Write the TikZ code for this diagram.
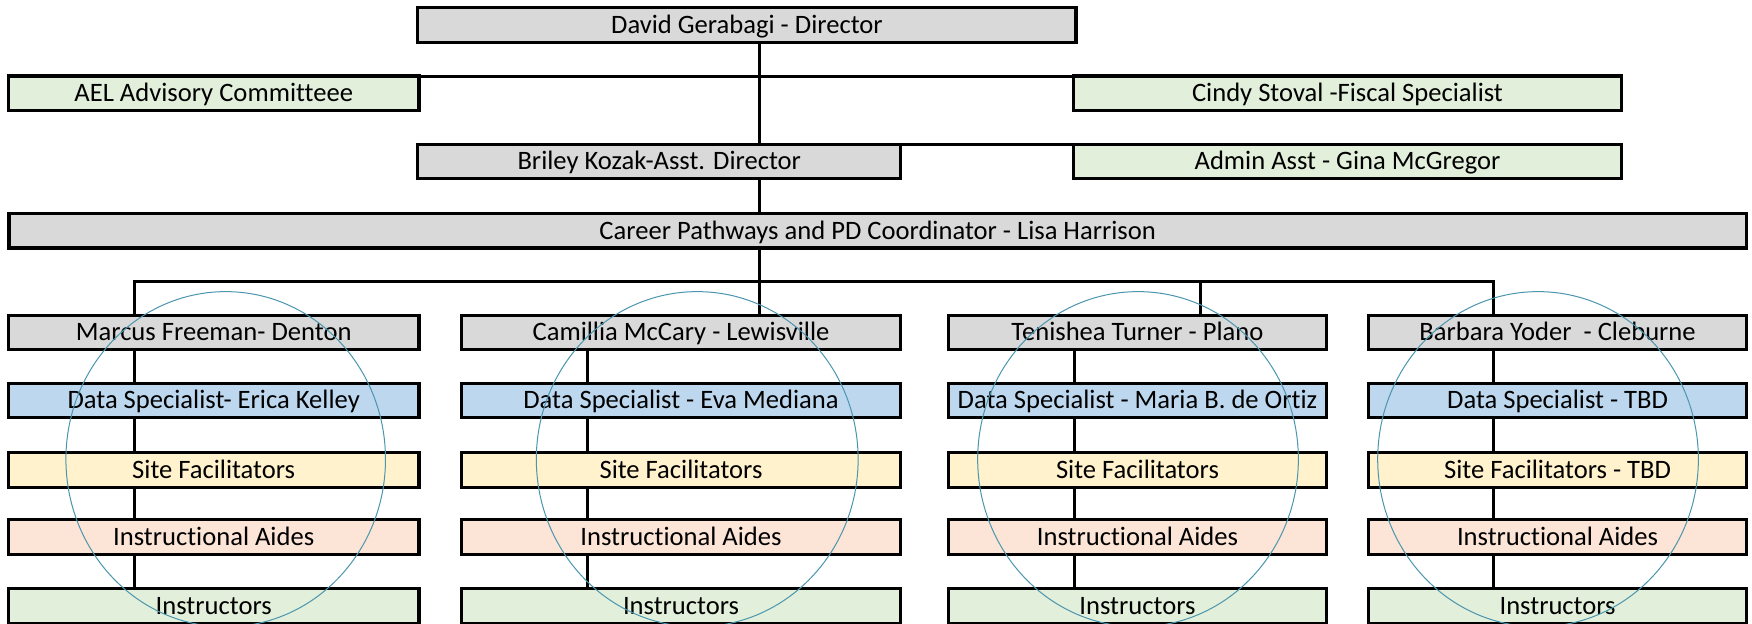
\documentclass[tikz,border=0pt]{standalone}
\usepackage{fontspec}
\usetikzlibrary{shapes.geometric}
\setmainfont{Carlito}[Ligatures=NoCommon]
\definecolor{gr}{HTML}{D9D9D9}
\definecolor{gn}{HTML}{E2EFDA}
\definecolor{bl}{HTML}{BDD7EE}
\definecolor{ye}{HTML}{FFF2CC}
\definecolor{pe}{HTML}{FCE4D6}
\definecolor{ring}{RGB}{75,150,175}
\begin{document}
\begin{tikzpicture}[x=1pt,y=-1pt,
  box/.style={draw=black,line width=2.8pt,minimum height=31pt,inner sep=0pt,outer sep=0pt,
    text height=18pt,text depth=3pt,
    font=\fontsize{23.8}{28}\selectfont,text=black},
  conn/.style={draw=black,line width=2.6pt},
  oval/.style={draw=ring,line width=0.9pt,ellipse,inner sep=0pt}]
\useasboundingbox (0,0) rectangle (1568,557.6);
% x positions of connectors
\coordinate (m) at (680,0);
\coordinate (k1) at (120,0);
\coordinate (k2) at (526,0);
\coordinate (k3) at (962,0);
\coordinate (d3) at (1074,0);
\coordinate (k4) at (1337,0);
\coordinate (busy) at (0,252);
% top boxes
\node[box,fill=gr,minimum width=589pt] (david) at (668.5,22.5) {David Gerabagi - Director};
\node[box,fill=gn,minimum width=367.5pt] (ael) at (191.25,83.5) {AEL Advisory Committeee};
\node[box,fill=gn,minimum width=490pt] (cindy) at (1206,83.5) {Cindy Stoval -Fiscal Specialist};
\node[box,fill=gr,minimum width=432pt] (briley) at (590,144.5) {Briley Kozak-Asst. Director};
\node[box,fill=gn,minimum width=490pt] (admin) at (1206,144.5) {Admin Asst - Gina McGregor};
\node[box,fill=gr,minimum width=1555pt] (career) at (785.5,206.5) {Career Pathways and PD Coordinator - Lisa Harrison};
% column 1
\node[box,fill=gr,minimum width=367.5pt] (m1) at (191.25,297.5) {Marcus Freeman- Denton};
\node[box,fill=bl,minimum width=367.5pt] (s1) at (191.25,358.5) {Data Specialist- Erica Kelley};
\node[box,fill=ye,minimum width=367.5pt] (f1) at (191.25,420.5) {Site Facilitators};
\node[box,fill=pe,minimum width=367.5pt] (i1) at (191.25,480.5) {Instructional Aides};
\node[box,fill=gn,minimum width=367.5pt] (n1) at (191.25,542.5) {Instructors};
% column 2
\node[box,fill=gr,minimum width=393pt] (m2) at (609.5,297.5) {Camillia McCary - Lewisville};
\node[box,fill=bl,minimum width=393pt] (s2) at (609.5,358.5) {Data Specialist - Eva Mediana};
\node[box,fill=ye,minimum width=393pt] (f2) at (609.5,420.5) {Site Facilitators};
\node[box,fill=pe,minimum width=393pt] (i2) at (609.5,480.5) {Instructional Aides};
\node[box,fill=gn,minimum width=393pt] (n2) at (609.5,542.5) {Instructors};
% column 3
\node[box,fill=gr,minimum width=338pt] (m3) at (1018,297.5) {Tenishea Turner - Plano};
\node[box,fill=bl,minimum width=338pt] (s3) at (1018,358.5) {Data Specialist - Maria B. de Ortiz};
\node[box,fill=ye,minimum width=338pt] (f3) at (1018,420.5) {Site Facilitators};
\node[box,fill=pe,minimum width=338pt] (i3) at (1018,480.5) {Instructional Aides};
\node[box,fill=gn,minimum width=338pt] (n3) at (1018,542.5) {Instructors};
% column 4
\node[box,fill=gr,minimum width=338pt] (m4) at (1394,297.5) {Barbara Yoder\ \ - Cleburne};
\node[box,fill=bl,minimum width=338pt] (s4) at (1394,358.5) {Data Specialist - TBD};
\node[box,fill=ye,minimum width=338pt] (f4) at (1394,420.5) {Site Facilitators - TBD};
\node[box,fill=pe,minimum width=338pt] (i4) at (1394,480.5) {Instructional Aides};
\node[box,fill=gn,minimum width=338pt] (n4) at (1394,542.5) {Instructors};
% connectors
\draw[conn] (david.south -| m) -- (briley.north -| m);
\draw[conn] (briley.south -| m) -- (career.north -| m);
\draw[conn] (career.south -| m) -- (m2.north -| m);
\draw[conn] ([yshift=-0.3pt]ael.north east) -- ([yshift=-0.3pt]cindy.north west);
\draw[conn] (briley.north east) -- (admin.north west);
\draw[conn] (m1.north -| k1) -- (k1 |- busy) -- (k4 |- busy) -- (m4.north -| k4);
\draw[conn] (d3 |- busy) -- (m3.north -| d3);
\foreach \c/\k in {1/k1,2/k2,3/k3,4/k4}{
  \draw[conn] (m\c.south -| \k) -- (s\c.north -| \k);
  \draw[conn] (s\c.south -| \k) -- (f\c.north -| \k);
  \draw[conn] (f\c.south -| \k) -- (i\c.north -| \k);
  \draw[conn] (i\c.south -| \k) -- (n\c.north -| \k);
}
% ovals
\node[oval,minimum width=286pt,minimum height=300pt] (o1) at (202,411) {};
\node[oval,minimum width=288pt,minimum height=300pt] (o2) at (624,411) {};
\node[oval,minimum width=287pt,minimum height=300pt] (o3) at (1018.5,411) {};
\node[oval,minimum width=287pt,minimum height=300pt] (o4) at (1376.5,411) {};
\end{tikzpicture}
\end{document}
